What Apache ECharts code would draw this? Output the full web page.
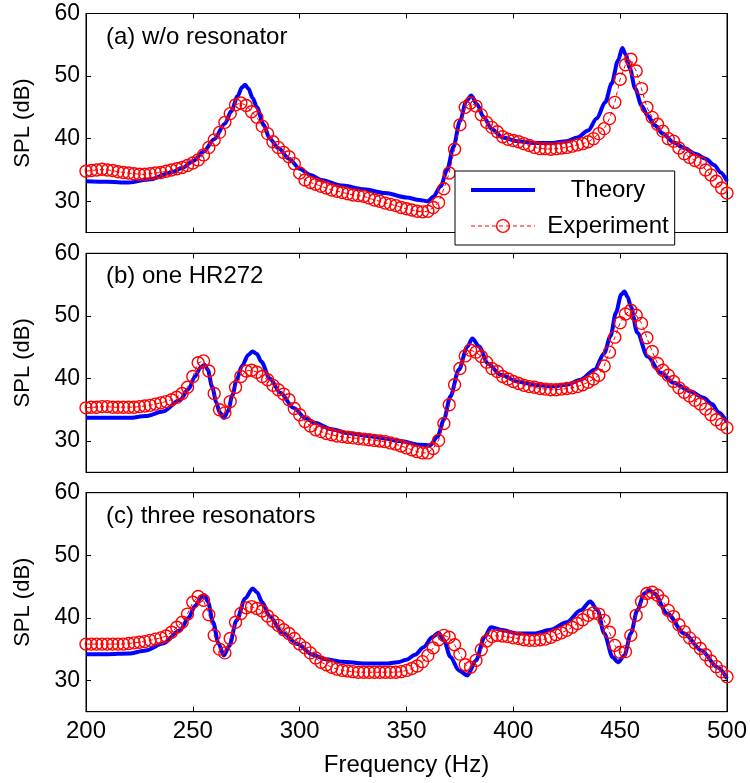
<!DOCTYPE html>
<html>
<head>
<meta charset="utf-8">
<script src="https://cdn.jsdelivr.net/npm/echarts@6/dist/echarts.min.js"></script>
<style>
  html, body { margin: 0; padding: 0; background: #fff; }
  #chart { width: 750px; height: 783px; }
</style>
</head>
<body>
<div id="chart"></div>
<script>
// measured frequencies (Hz)
const expFreq = [200,202.5,205,207.5,210,212.5,215,217.5,220,222.5,225,227.5,230,232.5,235,237.5,240,242.5,245,247.5,
  250,252.5,255,257.5,260,262.5,265,267.5,270,272.5,275,277.5,280,282.5,285,287.5,290,292.5,295,297.5,
  300,302.5,305,307.5,310,312.5,315,317.5,320,322.5,325,327.5,330,332.5,335,337.5,340,342.5,345,347.5,
  350,352.5,355,357.5,360,362.5,365,367.5,370,372.5,375,377.5,380,382.5,385,387.5,390,392.5,395,397.5,
  400,402.5,405,407.5,410,412.5,415,417.5,420,422.5,425,427.5,430,432.5,435,437.5,440,442.5,445,447.5,
  450,452.5,455,457.5,460,462.5,465,467.5,470,472.5,475,477.5,480,482.5,485,487.5,490,492.5,495,497.5,500];

// (a) w/o resonator
const expA = [34.8,34.9,35.0,35.1,35.0,34.9,34.7,34.6,34.5,34.4,
  34.3,34.3,34.4,34.5,34.6,34.8,35.0,35.2,35.4,35.7,
  36.1,36.6,37.4,38.6,39.8,41.0,42.6,44.0,45.4,45.7,
  45.3,44.3,43.4,42.0,40.8,39.5,38.6,37.8,37.1,36.0,
  34.5,33.4,33.0,32.7,32.4,32.1,31.8,31.6,31.4,31.2,
  31.0,30.9,30.8,30.5,30.2,30.0,29.7,29.5,29.3,29.0,
  28.8,28.6,28.4,28.3,28.4,29.0,29.8,32.0,34.5,38.3,
  42.2,45.0,45.7,45.2,43.8,42.6,41.8,41.1,40.3,39.9,
  39.7,39.5,39.2,38.9,38.6,38.4,38.4,38.3,38.4,38.5,
  38.6,38.8,39.0,39.2,39.5,40.0,40.8,41.6,43.2,45.8,
  49.5,51.8,52.7,50.8,48.0,45.0,43.4,42.3,41.2,40.0,
  39.6,38.5,37.6,37.0,36.5,36.2,35.0,34.2,33.2,32.1,
  31.3];
const theoryAFreq = [200,210,220,230,240,245,250,255,260,265,268,271,273,274.5,276,278,280,283,286,290,
  295,300,305,310,320,330,340,350,356,360,362.5,366,369,372,375,378,380.3,383,386,390,
  395,402,410,418,425,430,435,439,443,446,449,451,452.5,454.5,457,460,463,466,470,475,
  480,485,490,494,497,500];
const theoryASpl = [33.2,33.1,33.0,33.5,34.6,35.3,36.4,37.9,39.9,42.4,44.4,46.8,48.2,48.6,48.0,46.5,45.0,42.3,40.0,38.5,
  36.8,35.2,34.2,33.4,32.5,31.9,31.3,30.6,30.2,30.0,30.7,32.4,35.0,38.7,42.8,46.0,46.9,45.5,43.5,41.5,
  40.2,39.6,39.3,39.3,39.6,40.2,41.3,43.2,45.8,48.8,52.5,54.5,53.5,51.3,48.0,45.3,43.6,42.2,40.8,39.4,
  38.5,37.6,36.8,35.8,34.6,33.2];

// (b) one HR272
const expB = [35.3,35.4,35.4,35.5,35.5,35.4,35.4,35.4,35.4,35.4,
  35.5,35.6,35.7,35.9,36.1,36.3,36.6,37.0,37.6,38.6,
  40.3,42.5,42.8,41.2,37.6,35.0,34.5,36.3,38.6,40.3,
  41.2,41.3,41.0,40.3,39.8,38.9,38.2,37.5,36.6,35.2,
  34.2,33.1,32.4,31.8,31.5,31.2,31.0,30.8,30.7,30.6,
  30.5,30.4,30.3,30.2,30.1,30.0,29.9,29.7,29.5,29.2,
  28.9,28.6,28.3,28.1,28.1,28.8,30.1,32.8,35.8,39.0,
  41.6,43.6,44.5,44.2,43.5,42.6,41.6,41.1,40.3,39.9,
  39.5,39.2,38.9,38.7,38.6,38.4,38.3,38.2,38.2,38.3,
  38.4,38.5,38.7,39.0,39.4,39.9,40.5,42.0,44.2,46.6,
  48.9,50.3,50.9,50.1,48.8,46.5,44.3,42.4,41.3,40.5,
  39.5,38.5,37.8,37.2,36.5,35.9,35.1,34.2,33.4,32.7,
  32.1];
const theoryBFreq = [200,210,220,228,236,244,248,251,253.5,255.5,257,259,261,262.5,264.5,266.5,268.5,270.5,273,276,
  278,280,282,286,291,297,303,307,315,322,330,338,347,356,361,364.5,367.5,370.5,374.5,378.5,
  380.8,384,388,394,402,410,418,425,431.5,438,442.5,445.5,448,450.5,452,453.5,455,458,462.8,469,
  475,483,489,493,496,500];
const theoryBSpl = [33.7,33.7,33.7,34.0,34.7,36.6,38.3,40.3,41.7,42.2,41.4,38.7,36.2,34.6,33.7,34.8,37.3,39.8,42.0,43.8,
  44.3,43.9,42.7,40.0,37.7,35.3,33.6,32.9,31.9,31.3,30.9,30.5,30.0,29.4,29.3,30.7,33.4,37.1,41.4,45.1,
  46.4,45.1,42.4,40.6,39.5,39.0,38.7,39.0,39.8,41.4,44.0,46.8,50.5,53.4,53.9,53.0,51.5,47.3,43.5,40.9,
  39.3,37.9,36.9,35.9,34.6,33.0];

// (c) three resonators
const expC = [35.8,35.8,35.8,35.8,35.8,35.8,35.8,35.8,35.9,36.0,
  36.1,36.2,36.4,36.6,36.8,37.1,37.7,38.5,39.3,40.6,
  42.5,43.4,42.8,40.5,37.2,35.0,34.4,36.7,39.3,40.7,
  41.6,41.8,41.5,41.1,40.3,39.5,38.8,38.1,37.5,36.7,
  35.8,35.2,34.4,33.6,32.9,32.5,32.1,31.8,31.6,31.5,
  31.4,31.3,31.3,31.3,31.3,31.3,31.3,31.3,31.3,31.4,
  31.6,31.9,32.3,33.0,34.0,35.2,36.5,37.2,36.9,35.7,
  34.2,32.5,32.1,33.2,34.9,36.3,37.0,37.2,37.1,37.0,
  36.8,36.7,36.5,36.4,36.4,36.5,36.6,36.9,37.3,37.6,
  38.0,38.5,39.1,39.7,40.4,40.8,40.6,39.6,37.7,35.6,
  34.5,34.6,37.2,40.4,42.6,43.9,44.1,43.6,42.7,41.2,
  40.2,38.9,37.8,36.8,36.0,35.1,34.1,33.1,32.2,31.4,
  30.6];
const theoryCFreq = [200,210,220,228,236,244,248,251,254,255.5,257,259.5,262,264.5,267,270.5,274.5,278,280,282.5,
  286,292,299,306,312,320,330,340,346,350,354,358,362,365,367.5,370.5,374.5,378.5,382.5,386.5,
  389.5,394,402,410,417.5,425,431.5,436,439.5,442.5,446.5,449,452,455,458,461.3,463.6,466,472,480,
  488,495.6,500];
const theoryCSpl = [34.2,34.2,34.3,34.8,35.9,38.0,40.0,41.9,43.3,43.6,42.6,39.3,35.9,34.0,35.5,39.6,43.1,44.7,44.1,42.5,
  40.2,37.6,35.8,34.1,33.4,33.0,32.7,32.7,32.9,33.3,34.1,35.3,36.9,37.6,36.4,33.8,31.6,30.8,33.2,36.9,
  38.5,38.1,37.5,37.5,38.1,39.3,41.2,42.6,41.2,37.5,33.7,32.9,34.0,37.5,41.2,43.9,44.4,43.9,40.7,37.5,
  34.8,32.1,30.3];

const panelLabels = ['(a) w/o resonator', '(b) one HR272', '(c) three resonators'];
const xTicks = [200, 250, 300, 350, 400, 450, 500];
const yTicks = [30, 40, 50, 60];

const FONT = '"Liberation Sans", Arial, Helvetica, sans-serif';
const panelTops = [13.5, 253.3, 492.7];
const panelH = 219;
const plotLeft = 86, plotW = 641;

const theories = [[theoryAFreq, theoryASpl], [theoryBFreq, theoryBSpl], [theoryCFreq, theoryCSpl]];
const exps = [expA, expB, expC];

function pairs(xs, ys) {
  return xs.map((x, i) => [x, ys[i]]);
}

const chart = echarts.init(document.getElementById('chart'));

const grid = [], xAxis = [], yAxis = [], series = [], graphic = [];
const lineAxis = { show: true, onZero: false, lineStyle: { color: '#000', width: 1 } };
const tick = { show: true, inside: true, length: 5, lineStyle: { color: '#000', width: 1 } };

panelTops.forEach((top, i) => {
  grid.push({ left: plotLeft, top: top, width: plotW, height: panelH,
    show: true, borderColor: '#000', borderWidth: 1, backgroundColor: '#fff' });
  const last = i === panelTops.length - 1;
  // bottom x axis
  xAxis.push({
    type: 'value', gridIndex: i, min: 200, max: 500, interval: 50, position: 'bottom',
    axisLine: lineAxis, axisTick: tick, splitLine: { show: false },
    axisLabel: { show: last, color: '#000', fontSize: 24, fontFamily: FONT, margin: 8,
      customValues: xTicks },
    name: last ? 'Frequency (Hz)' : '', nameLocation: 'middle', nameGap: 42,
    nameTextStyle: { color: '#000', fontSize: 24, fontFamily: FONT }
  });
  // top x axis (ticks only)
  xAxis.push({
    type: 'value', gridIndex: i, min: 200, max: 500, interval: 50, position: 'top',
    axisLine: lineAxis, axisTick: tick, splitLine: { show: false }, axisLabel: { show: false }
  });
  // left y axis
  yAxis.push({
    type: 'value', gridIndex: i, min: 25, max: 60, interval: 5, position: 'left',
    axisLine: lineAxis, splitLine: { show: false },
    axisTick: Object.assign({}, tick, { customValues: yTicks }),
    axisLabel: { color: '#000', fontSize: 23, fontFamily: FONT, margin: 6, customValues: yTicks },
    name: 'SPL (dB)', nameLocation: 'middle', nameGap: 52, nameRotate: 90,
    nameTextStyle: { color: '#000', fontSize: 22, fontFamily: FONT }
  });
  // right y axis (ticks only)
  yAxis.push({
    type: 'value', gridIndex: i, min: 25, max: 60, interval: 5, position: 'right',
    axisLine: lineAxis, splitLine: { show: false },
    axisTick: Object.assign({}, tick, { customValues: yTicks }),
    axisLabel: { show: false }
  });

  series.push({
    name: 'Theory', type: 'line', xAxisIndex: i * 2, yAxisIndex: i * 2,
    data: pairs(theories[i][0], theories[i][1]),
    symbol: 'none', smooth: 0.3, smoothMonotone: 'x',
    lineStyle: { color: '#0000ff', width: 4 }, itemStyle: { color: '#0000ff' },
    z: 2
  });
  series.push({
    name: 'Experiment', type: 'line', xAxisIndex: i * 2, yAxisIndex: i * 2,
    data: pairs(expFreq, exps[i]),
    symbol: 'circle', symbolSize: 12, showAllSymbol: true,
    lineStyle: { color: '#ff0000', width: 1, type: [4, 3] },
    itemStyle: { color: 'rgba(255,255,255,0)', borderColor: '#ff0000', borderWidth: 1.4 },
    z: 3
  });

  graphic.push({
    type: 'text', left: 106, top: top + 11.5,
    style: { text: panelLabels[i], fill: '#000', font: '24px ' + FONT }
  });
});

chart.setOption({
  animation: false,
  backgroundColor: '#fff',
  grid: grid,
  xAxis: xAxis,
  yAxis: yAxis,
  graphic: graphic,
  legend: {
    orient: 'vertical', left: 455, top: 171,
    padding: [7, 6, 7, 14], itemGap: 12, itemWidth: 64, itemHeight: 16,
    backgroundColor: '#fff', borderColor: '#000', borderWidth: 1, borderRadius: 0,
    selectedMode: false,
    textStyle: { color: '#000', fontSize: 24, fontFamily: FONT,
      rich: { c: { width: 136, align: 'center', fontSize: 24, fontFamily: FONT, color: '#000' } } },
    formatter: '{c|{name}}',
    data: [
      { name: 'Theory', lineStyle: { color: '#0000ff', width: 4 },
        itemStyle: { color: 'rgba(0,0,0,0)', borderColor: 'rgba(0,0,0,0)', borderWidth: 0 } },
      { name: 'Experiment', lineStyle: { color: '#ff0000', width: 1, type: [4, 3] },
        itemStyle: { color: 'rgba(255,255,255,0)', borderColor: '#ff0000', borderWidth: 1.4 } }
    ],
    z: 10
  },
  series: series
});
</script>
</body>
</html>
